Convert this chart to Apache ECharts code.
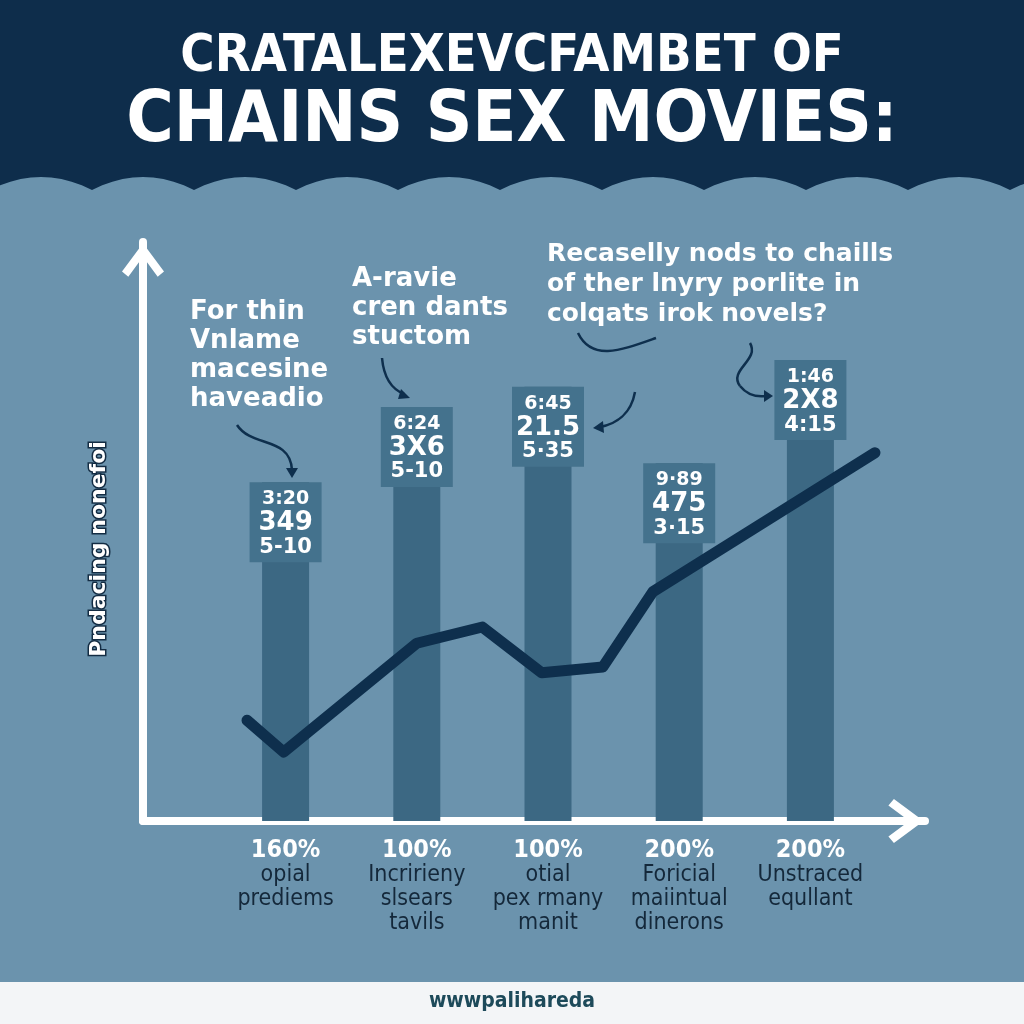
<!DOCTYPE html>
<html>
<head>
<meta charset="utf-8">
<script src="https://cdn.jsdelivr.net/npm/echarts@6/dist/echarts.min.js"></script>
<style>
html, body { margin: 0; padding: 0; background: #6b93ad; }
#chart { width: 1024px; height: 1024px; }
</style>
</head>
<body>
<div id="chart"></div>
<script>
// categories under the bars
const categories = ['opial prediems', 'Incririeny slsears tavils', 'otial pex rmany manit', 'Foricial maiintual dinerons', 'Unstraced equllant'];
const pctLabels = ['160%', '100%', '100%', '200%', '200%'];
const descLine1 = ['opial', 'Incririeny', 'otial', 'Foricial', 'Unstraced'];
const descLine2 = ['prediems', 'slsears', 'pex rmany', 'maiintual', 'equllant'];
const descLine3 = ['', 'tavils', 'manit', 'dinerons', ''];

// bar heights (0-100 scale of the y axis)
const barValues = [58.5, 71.5, 75.0, 61.8, 79.6];
// texts in the boxes on top of the bars
const boxTop = ['3:20', '6:24', '6:45', '9·89', '1:46'];
const boxMid = ['349', '3X6', '21.5', '475', '2X8'];
const boxBot = ['5-10', '5-10', '5·35', '3·15', '4:15'];

// trend line (x and y on 0-100 scales)
const lineX = [13.3, 18.0, 35.0, 43.4, 51.0, 58.8, 65.2, 93.6];
const lineY = [17.4, 11.9, 30.7, 33.5, 25.6, 26.6, 39.6, 63.6];

const yTitle = 'Pndacing nonefoi';

let chart = echarts.init(document.getElementById('chart'), null, { renderer: 'canvas' });

// scalloped edge under the header: shallow arcs between points every 102px
let wave = [[-10, 0], [1112, 0]];
for (let v = 1112; v > -10; v -= 102) {
  for (let s = 0; s <= 10; s++) {
    let t = s / 10;
    wave.push([v - 102 * t, 190 - 52 * t * (1 - t)]);
  }
}

const chevron = 'path://M20,0 L40,27 L34,32 L20,13 L6,32 L0,27 Z';
const ink = '#0e2f4d';

function curve (x1, y1, c1x, c1y, c2x, c2y, x2, y2) {
  return { type: 'bezierCurve', shape: { x1: x1, y1: y1, cpx1: c1x, cpy1: c1y, cpx2: c2x, cpy2: c2y, x2: x2, y2: y2 },
    style: { stroke: ink, lineWidth: 2.5, fill: null } };
}
function head (pts) {
  return { type: 'polygon', shape: { points: pts }, style: { fill: ink } };
}

chart.setOption({
  backgroundColor: '#6b93ad',
  animation: false,
  grid: [
    { left: 143, right: 99, top: 242, bottom: 203 },
    { left: 220, right: 148, top: 242, bottom: 203 }
  ],
  xAxis: [
    {
      type: 'value', gridIndex: 0, min: 0, max: 100,
      axisLine: { show: true, onZero: false, lineStyle: { color: '#fff', width: 8 },
        symbol: ['none', chevron], symbolSize: [44, 38], symbolOffset: [0, -19] },
      axisTick: { show: false }, axisLabel: { show: false }, splitLine: { show: false }
    },
    {
      type: 'category', gridIndex: 1, data: categories,
      axisLine: { show: false }, axisTick: { show: false },
      axisLabel: {
        interval: 0, margin: 16,
        formatter: function (v, i) {
          let s = '{p|' + pctLabels[i] + '}\n{d|' + descLine1[i] + '}\n{d|' + descLine2[i] + '}';
          if (descLine3[i]) s += '\n{d|' + descLine3[i] + '}';
          return s;
        },
        rich: {
          p: { fontFamily: 'DejaVu Sans Condensed', fontWeight: 'bold', fontSize: 25, color: '#fff', lineHeight: 26 },
          d: { fontFamily: 'DejaVu Sans Condensed', fontSize: 23, color: '#14283a', lineHeight: 24 }
        }
      }
    }
  ],
  yAxis: [
    {
      type: 'value', gridIndex: 0, min: 0, max: 100,
      axisLine: { show: true, onZero: false, lineStyle: { color: '#fff', width: 8 },
        symbol: ['none', chevron], symbolSize: [42, 36], symbolOffset: [0, -18] },
      axisTick: { show: false }, axisLabel: { show: false }, splitLine: { show: false }
    },
    {
      type: 'value', gridIndex: 1, min: 0, max: 100, show: false, splitLine: { show: false }
    }
  ],
  series: [
    {
      type: 'bar', xAxisIndex: 1, yAxisIndex: 1, z: 1,
      data: barValues, barWidth: 47,
      itemStyle: { color: '#3c6883' },
      label: {
        show: true, position: 'insideTop', distance: 0,
        backgroundColor: '#44728d', width: 72, align: 'center',
        padding: [6, 0, 4, 0],
        formatter: function (p) {
          let i = p.dataIndex;
          return '{t|' + boxTop[i] + '}\n{m|' + boxMid[i] + '}\n{b|' + boxBot[i] + '}';
        },
        rich: {
          t: { fontFamily: 'DejaVu Sans', fontWeight: 'bold', fontSize: 19, color: '#fff', lineHeight: 22, align: 'center' },
          m: { fontFamily: 'DejaVu Sans', fontWeight: 'bold', fontSize: 26, color: '#fff', lineHeight: 26, align: 'center' },
          b: { fontFamily: 'DejaVu Sans', fontWeight: 'bold', fontSize: 21, color: '#fff', lineHeight: 22, align: 'center' }
        }
      }
    },
    {
      type: 'line', xAxisIndex: 0, yAxisIndex: 0, z: 3,
      data: lineX.map((x, i) => [x, lineY[i]]),
      showSymbol: false, symbol: 'none',
      lineStyle: { color: ink, width: 11, cap: 'round', join: 'round' }
    }
  ],
  graphic: [
    { type: 'polygon', z: -1, shape: { points: wave }, style: { fill: '#0e2d4b' } },
    { type: 'rect', z: -1, shape: { x: 0, y: 982, width: 1024, height: 42 }, style: { fill: '#f3f5f7' } },
    { type: 'text', style: { text: 'CRATALEXEVCFAMBET OF', x: 512, y: 57, align: 'center', verticalAlign: 'middle',
      font: 'bold 52px "DejaVu Sans Condensed"', fill: '#fff' } },
    { type: 'text', style: { text: 'CHAINS SEX MOVIES:', x: 512, y: 122, align: 'center', verticalAlign: 'middle',
      font: 'bold 72px "DejaVu Sans Condensed"', fill: '#fff' } },
    { type: 'text', style: { text: 'wwwpalihareda', x: 512, y: 1002, align: 'center', verticalAlign: 'middle',
      font: 'bold 21px "DejaVu Sans Condensed"', fill: '#1d4a5a' } },
    { type: 'text', x: 99, y: 549, rotation: Math.PI / 2,
      style: { text: yTitle, x: 0, y: 0, align: 'center', verticalAlign: 'middle',
        font: 'bold 22px "DejaVu Sans"', fill: '#fff', stroke: '#132c43', lineWidth: 3 } },
    { type: 'text', style: { text: 'For thin\nVnlame\nmacesine\nhaveadio', x: 190, y: 298, verticalAlign: 'top',
      font: 'bold 26px "DejaVu Sans"', lineHeight: 29, fill: '#fff' } },
    { type: 'text', style: { text: 'A-ravie\ncren dants\nstuctom', x: 352, y: 265, verticalAlign: 'top',
      font: 'bold 26px "DejaVu Sans"', lineHeight: 29, fill: '#fff' } },
    { type: 'text', style: { text: 'Recaselly nods to chaills\nof ther lnyry porlite in\ncolqats irok novels?', x: 547, y: 239, verticalAlign: 'top',
      font: 'bold 25px "DejaVu Sans"', lineHeight: 30, fill: '#fff' } },
    // hand drawn pointers
    curve(237, 425, 252, 448, 290, 436, 292, 470),
    head([[286, 468], [292, 478], [298, 468]]),
    curve(382, 358, 384, 380, 394, 390, 404, 394),
    head([[401, 389], [410, 398], [398, 399]]),
    curve(578, 333, 592, 362, 622, 350, 656, 338),
    curve(635, 392, 631, 414, 616, 424, 600, 427),
    head([[603, 421], [593, 428], [604, 433]]),
    curve(750, 343, 760, 360, 728, 370, 740, 386),
    curve(740, 386, 748, 396, 758, 397, 766, 396),
    head([[764, 390], [773, 396], [764, 402]])
  ]
});
</script>
</body>
</html>
